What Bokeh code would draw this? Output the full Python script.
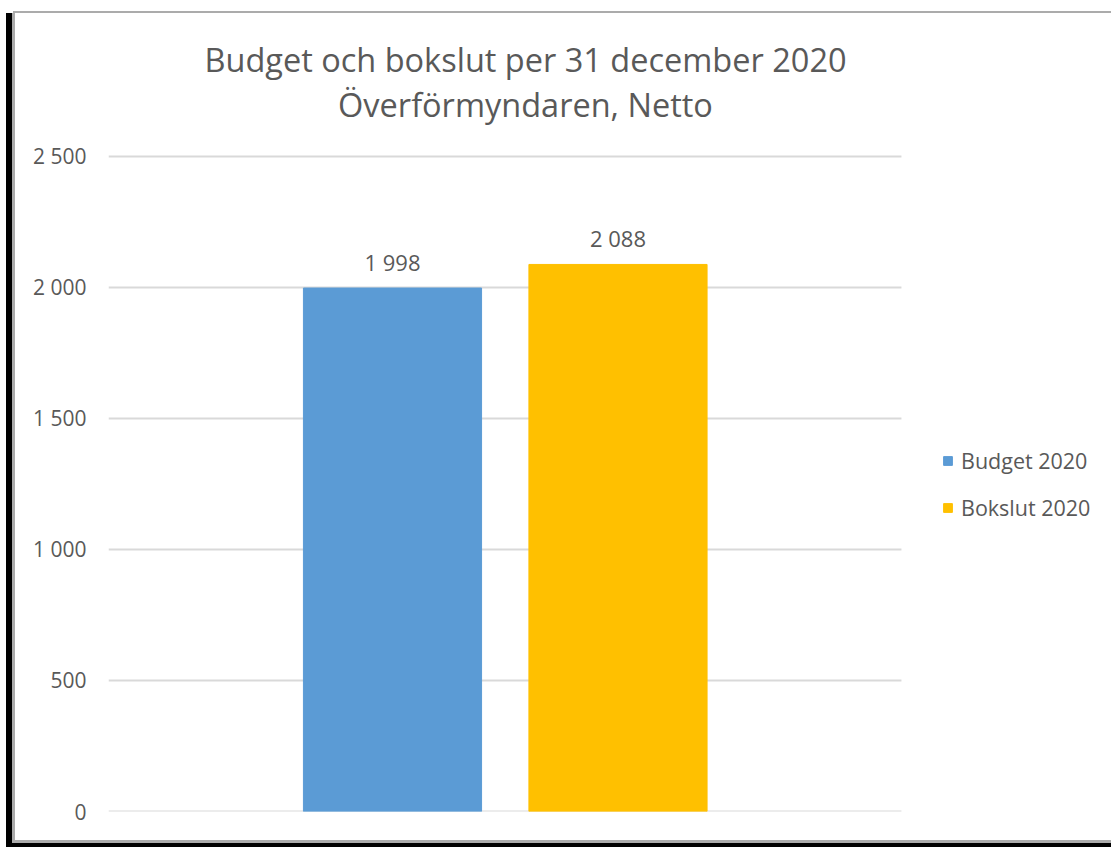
from bokeh.plotting import figure
from bokeh.models import (ColumnDataSource, Range1d, FixedTicker, Legend, LegendItem,
                          LabelSet, Label)
from bokeh.core.properties import value
from bokeh.embed import file_html
from bokeh.resources import INLINE

# ---- data ----
title_lines = ["Budget och bokslut per 31 december 2020", "Överförmyndaren, Netto"]
series = ["Budget 2020", "Bokslut 2020"]
values = [1998, 2088]
colors = ["#5B9BD5", "#FFC000"]
y_ticks = [0, 500, 1000, 1500, 2000, 2500]

def fmt(v):
    return f"{v:,}".replace(",", " ")

FONT = "Open Sans"
TXT = "#595959"

# category axis extent (plot area) and frame range
AX_START, AX_END = -0.7594, 2.757
X_END = 3.6885
Y_TOP = 3095.4

src = ColumnDataSource(dict(
    x=[i + 0.5 for i in range(len(series))],
    top=values,
    color=colors,
    name=series,
    label=[fmt(v) for v in values],
))
grid_src = ColumnDataSource(dict(
    y=y_ticks,
    x0=[AX_START] * len(y_ticks),
    x1=[AX_END] * len(y_ticks),
))

W, H = 1111, 847
p = figure(width=W, height=H, output_backend="svg", toolbar_location=None,
           x_range=Range1d(AX_START, X_END), y_range=Range1d(0, Y_TOP),
           x_axis_location=None,
           min_border_left=108, min_border_right=0,
           min_border_top=0, min_border_bottom=36)
p.outline_line_color = None
p.background_fill_alpha = 0
p.border_fill_alpha = 0
p.styles = {
    "background-color": "white",
    "background-image": ", ".join(["linear-gradient(#000,#000)"] * 2 +
                                  ["linear-gradient(#ABABAB,#ABABAB)"] * 3),
    "background-position": "6px 13px, 6px 843px, 12px 13px, 12px 840px, 13px 11px",
    "background-size": "6px 834px, 1105px 4px, 3px 828px, 1099px 3px, 1098px 2px",
    "background-repeat": "no-repeat",
}

p.xgrid.visible = False
p.ygrid.visible = False
p.segment(x0="x0", x1="x1", y0="y", y1="y", source=grid_src,
          line_color="#D9D9D9", line_width=2)

r = p.vbar(x="x", top="top", width=0.79, bottom=0, color="color", source=src)

p.yaxis.ticker = FixedTicker(ticks=y_ticks)
p.yaxis.major_label_overrides = {t: fmt(t) for t in y_ticks}
p.yaxis.axis_line_color = None
p.yaxis.major_tick_line_color = None
p.yaxis.minor_tick_line_color = None
p.yaxis.major_tick_out = 0
p.yaxis.major_tick_in = 0
p.yaxis.major_label_standoff = 22
p.yaxis.major_label_text_font = FONT
p.yaxis.major_label_text_font_size = "21px"
p.yaxis.major_label_text_color = TXT

labels = LabelSet(x="x", y="top", text="label", source=src, text_align="center",
                  text_baseline="alphabetic", y_offset=17, text_font=value(FONT),
                  text_font_size=value("22px"), text_color=value(TXT))
p.add_layout(labels)

# title
for txt, yy in zip(title_lines, [752, 707]):
    p.add_layout(Label(x=417, y=yy, x_units="screen", y_units="screen", text=txt,
                       text_align="center", text_baseline="alphabetic",
                       text_font=FONT, text_font_size="32.5px", text_color=TXT))

legend = Legend(items=[LegendItem(label=n, renderers=[r], index=i) for i, n in enumerate(series)],
                location=(834, 289), orientation="vertical",
                glyph_width=11, glyph_height=11, label_standoff=8,
                label_height=22, spacing=18, padding=0, margin=0,
                border_line_color=None, background_fill_alpha=0,
                label_text_font=FONT, label_text_font_size="21.5px",
                label_text_color=TXT)
p.add_layout(legend, "center")

open("out.html", "w").write(file_html(p, INLINE))
